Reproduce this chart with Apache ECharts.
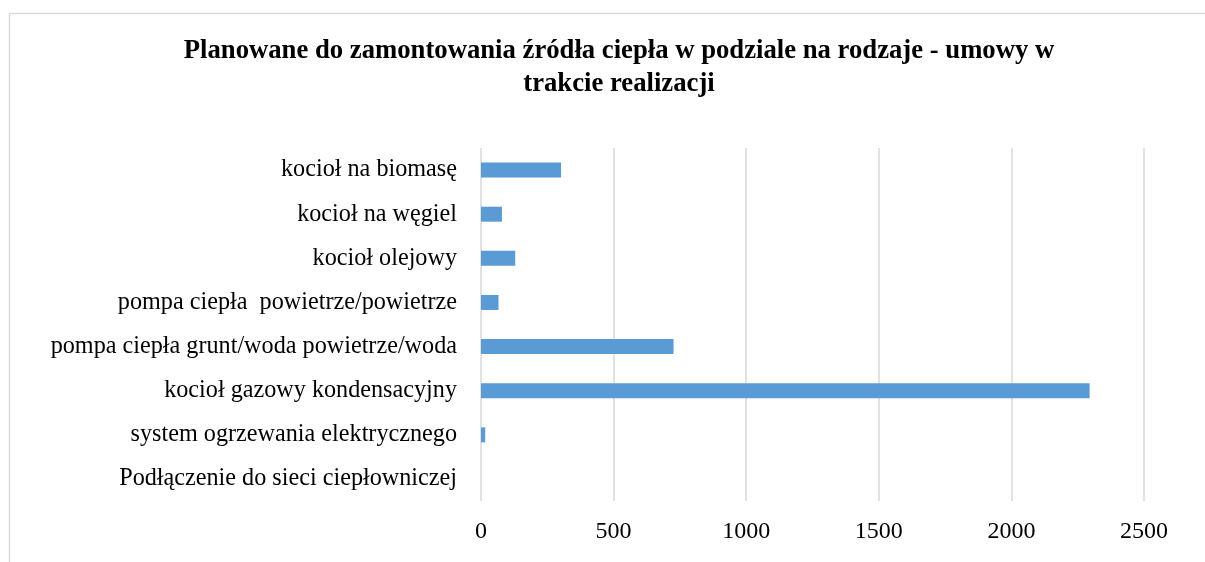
<!DOCTYPE html>
<html lang="pl">
<head>
<meta charset="utf-8">
<title>Źródła ciepła</title>
<script src="https://cdn.jsdelivr.net/npm/echarts@6/dist/echarts.min.js"></script>
<style>
  html, body { margin: 0; padding: 0; background: #fff; }
  #main { width: 1205px; height: 562px; }
</style>
</head>
<body>
<div id="main"></div>
<script>
  // kategorie (od góry do dołu)
  const categories = [
    'kocioł na biomasę',
    'kocioł na węgiel',
    'kocioł olejowy',
    'pompa ciepła  powietrze/powietrze',
    'pompa ciepła grunt/woda powietrze/woda',
    'kocioł gazowy kondensacyjny',
    'system ogrzewania elektrycznego',
    'Podłączenie do sieci ciepłowniczej'
  ];
  // liczba planowanych źródeł
  const values = [302, 79, 129, 66, 726, 2295, 16, 0];
  const titleText = 'Planowane do zamontowania źródła ciepła w podziale na rodzaje - umowy w\ntrakcie realizacji';

  const chart = echarts.init(document.getElementById('main'));

  const option = {
    backgroundColor: '#ffffff',
    animation: false,
    textStyle: { fontFamily: '"Liberation Serif", "DejaVu Serif", serif' },
    title: {
      text: titleText,
      left: 614,
      top: 30,
      textAlign: 'center',
      textStyle: {
        fontFamily: '"Liberation Serif", serif',
        fontSize: 26.7,
        fontWeight: 'bold',
        color: '#000',
        lineHeight: 33
      }
    },
    graphic: [{
      type: 'rect',
      shape: { x: 9.5, y: 13.5, width: 1300, height: 700 },
      style: { fill: 'none', stroke: '#d9d9d9', lineWidth: 1.5 },
      silent: true
    }],
    grid: { left: 481, right: 61, top: 148, bottom: 61 },
    xAxis: {
      type: 'value',
      min: 0,
      max: 2500,
      interval: 500,
      axisLine: { show: false },
      axisTick: { show: false },
      splitLine: { lineStyle: { color: '#d9d9d9', width: 1.5 } },
      axisLabel: {
        fontSize: 24, color: '#000', margin: 19,
        fontFamily: '"Liberation Serif", serif',
        formatter: function (v) { return String(v); }
      }
    },
    yAxis: {
      type: 'category',
      data: categories,
      inverse: true,
      axisLine: { show: false },
      axisTick: { show: false },
      axisLabel: { fontSize: 24.2, color: '#000', margin: 24, fontFamily: '"Liberation Serif", serif' }
    },
    series: [{
      type: 'bar',
      data: values,
      barWidth: 15,
      itemStyle: { color: '#5b9bd5' }
    }]
  };

  chart.setOption(option);
</script>
</body>
</html>
